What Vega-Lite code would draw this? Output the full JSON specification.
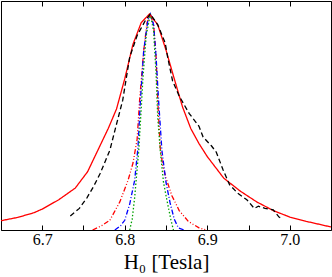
{
  "$schema": "https://vega.github.io/schema/vega-lite/v6.json",
  "width": 330,
  "height": 229,
  "autosize": "none",
  "padding": {"left": 1, "top": 1, "right": 1, "bottom": 47},
  "background": "white",
  "config": {
    "view": {"stroke": "black", "strokeWidth": 1},
    "axis": {"domainColor": "black", "tickColor": "black", "labelColor": "black", "titleColor": "black", "labelFont": "Liberation Serif", "titleFont": "Liberation Serif", "labelFontSize": 16, "titleFontSize": 21, "titleFontWeight": "normal", "labelPadding": 6, "titlePadding": 4, "grid": false}
  },
  "data": {"values": [
    {"s": "a", "x": 6.65, "y": 0.043},
    {"s": "a", "x": 6.67, "y": 0.058},
    {"s": "a", "x": 6.69, "y": 0.08},
    {"s": "a", "x": 6.70, "y": 0.097},
    {"s": "a", "x": 6.72, "y": 0.14},
    {"s": "a", "x": 6.74, "y": 0.194},
    {"s": "a", "x": 6.755, "y": 0.27},
    {"s": "a", "x": 6.77, "y": 0.39},
    {"s": "a", "x": 6.78, "y": 0.47},
    {"s": "a", "x": 6.79, "y": 0.56},
    {"s": "a", "x": 6.80, "y": 0.70},
    {"s": "a", "x": 6.81, "y": 0.86},
    {"s": "a", "x": 6.82, "y": 0.96},
    {"s": "a", "x": 6.83, "y": 1.0},
    {"s": "a", "x": 6.84, "y": 0.95},
    {"s": "a", "x": 6.85, "y": 0.833},
    {"s": "a", "x": 6.86, "y": 0.70},
    {"s": "a", "x": 6.87, "y": 0.57},
    {"s": "a", "x": 6.88, "y": 0.47},
    {"s": "a", "x": 6.89, "y": 0.40},
    {"s": "a", "x": 6.90, "y": 0.34},
    {"s": "a", "x": 6.92, "y": 0.24},
    {"s": "a", "x": 6.94, "y": 0.18},
    {"s": "a", "x": 6.96, "y": 0.13},
    {"s": "a", "x": 6.98, "y": 0.09},
    {"s": "a", "x": 7.00, "y": 0.06},
    {"s": "a", "x": 7.02, "y": 0.04},
    {"s": "a", "x": 7.05, "y": 0.014},
    {"s": "b", "x": 6.734, "y": 0.065},
    {"s": "b", "x": 6.745, "y": 0.10},
    {"s": "b", "x": 6.754, "y": 0.148},
    {"s": "b", "x": 6.762, "y": 0.20},
    {"s": "b", "x": 6.77, "y": 0.26},
    {"s": "b", "x": 6.782, "y": 0.37},
    {"s": "b", "x": 6.788, "y": 0.46},
    {"s": "b", "x": 6.7975, "y": 0.60},
    {"s": "b", "x": 6.806, "y": 0.80},
    {"s": "b", "x": 6.815, "y": 0.90},
    {"s": "b", "x": 6.825, "y": 0.97},
    {"s": "b", "x": 6.831, "y": 1.0},
    {"s": "b", "x": 6.84, "y": 0.95},
    {"s": "b", "x": 6.849, "y": 0.866},
    {"s": "b", "x": 6.852, "y": 0.80},
    {"s": "b", "x": 6.858, "y": 0.69},
    {"s": "b", "x": 6.866, "y": 0.62},
    {"s": "b", "x": 6.878, "y": 0.54},
    {"s": "b", "x": 6.89, "y": 0.48},
    {"s": "b", "x": 6.895, "y": 0.43},
    {"s": "b", "x": 6.905, "y": 0.39},
    {"s": "b", "x": 6.911, "y": 0.36},
    {"s": "b", "x": 6.919, "y": 0.28},
    {"s": "b", "x": 6.927, "y": 0.21},
    {"s": "b", "x": 6.937, "y": 0.17},
    {"s": "b", "x": 6.948, "y": 0.14},
    {"s": "b", "x": 6.957, "y": 0.10},
    {"s": "b", "x": 6.962, "y": 0.11},
    {"s": "b", "x": 6.97, "y": 0.10},
    {"s": "b", "x": 6.98, "y": 0.093},
    {"s": "b", "x": 6.987, "y": 0.06},
    {"s": "b", "x": 6.99, "y": 0.055},
    {"s": "c", "x": 6.761, "y": 0.0},
    {"s": "c", "x": 6.772, "y": 0.02},
    {"s": "c", "x": 6.782, "y": 0.045},
    {"s": "c", "x": 6.794, "y": 0.13},
    {"s": "c", "x": 6.804, "y": 0.23},
    {"s": "c", "x": 6.81, "y": 0.31},
    {"s": "c", "x": 6.815, "y": 0.42},
    {"s": "c", "x": 6.818, "y": 0.60},
    {"s": "c", "x": 6.823, "y": 0.83},
    {"s": "c", "x": 6.827, "y": 0.96},
    {"s": "c", "x": 6.831, "y": 1.0},
    {"s": "c", "x": 6.835, "y": 0.95},
    {"s": "c", "x": 6.838, "y": 0.8},
    {"s": "c", "x": 6.84, "y": 0.6},
    {"s": "c", "x": 6.843, "y": 0.38},
    {"s": "c", "x": 6.846, "y": 0.30},
    {"s": "c", "x": 6.85, "y": 0.24},
    {"s": "c", "x": 6.857, "y": 0.16},
    {"s": "c", "x": 6.866, "y": 0.09},
    {"s": "c", "x": 6.877, "y": 0.04},
    {"s": "c", "x": 6.89, "y": 0.01},
    {"s": "c", "x": 6.899, "y": 0.0},
    {"s": "d", "x": 6.788, "y": 0.0},
    {"s": "d", "x": 6.795, "y": 0.02},
    {"s": "d", "x": 6.8, "y": 0.045},
    {"s": "d", "x": 6.806, "y": 0.12},
    {"s": "d", "x": 6.812, "y": 0.23},
    {"s": "d", "x": 6.816, "y": 0.38},
    {"s": "d", "x": 6.819, "y": 0.6},
    {"s": "d", "x": 6.823, "y": 0.83},
    {"s": "d", "x": 6.828, "y": 0.97},
    {"s": "d", "x": 6.831, "y": 1.0},
    {"s": "d", "x": 6.835, "y": 0.95},
    {"s": "d", "x": 6.838, "y": 0.8},
    {"s": "d", "x": 6.841, "y": 0.6},
    {"s": "d", "x": 6.845, "y": 0.37},
    {"s": "d", "x": 6.85, "y": 0.22},
    {"s": "d", "x": 6.855, "y": 0.125},
    {"s": "d", "x": 6.86, "y": 0.05},
    {"s": "d", "x": 6.865, "y": 0.01},
    {"s": "d", "x": 6.872, "y": 0.0},
    {"s": "e", "x": 6.806, "y": 0.0},
    {"s": "e", "x": 6.809, "y": 0.05},
    {"s": "e", "x": 6.812, "y": 0.15},
    {"s": "e", "x": 6.817, "y": 0.37},
    {"s": "e", "x": 6.819, "y": 0.5},
    {"s": "e", "x": 6.822, "y": 0.7},
    {"s": "e", "x": 6.826, "y": 0.9},
    {"s": "e", "x": 6.831, "y": 1.0},
    {"s": "e", "x": 6.835, "y": 0.92},
    {"s": "e", "x": 6.838, "y": 0.72},
    {"s": "e", "x": 6.84, "y": 0.52},
    {"s": "e", "x": 6.843, "y": 0.37},
    {"s": "e", "x": 6.847, "y": 0.22},
    {"s": "e", "x": 6.851, "y": 0.14},
    {"s": "e", "x": 6.856, "y": 0.046},
    {"s": "e", "x": 6.859, "y": 0.0}
  ]},
  "encoding": {
    "y": {"field": "y", "type": "quantitative", "scale": {"domain": [0, 1.06], "nice": false, "zero": false}, "axis": null},
    "color": {"field": "s", "type": "nominal", "legend": null, "scale": {"domain": ["a", "b", "c", "d", "e"], "range": ["#ff0000", "#000000", "#ff0000", "#0000ff", "#00a000"]}},
    "strokeDash": {"field": "s", "type": "nominal", "legend": null, "scale": {"domain": ["a", "b", "c", "d", "e"], "range": [[1, 0], [5, 3], [5, 2, 1, 2, 1, 2], [5, 2, 1, 2], [1.5, 2]]}},
    "detail": {"field": "s"}
  },
  "layer": [
    {
      "transform": [{"filter": "datum.s == 'c' || datum.s == 'd' || datum.s == 'e'"}],
      "mark": {"type": "line", "strokeWidth": 1.3, "clip": true},
      "encoding": {
        "x": {"field": "x", "type": "quantitative", "scale": {"domain": [6.65, 7.05], "nice": false, "zero": false},
          "axis": {"orient": "top", "values": [6.7, 6.75, 6.8, 6.85, 6.9, 6.95, 7.0], "labels": false, "tickSize": -5, "title": null, "domain": true}}
      }
    },
    {
      "transform": [{"filter": "datum.s == 'a' || datum.s == 'b'"}],
      "mark": {"type": "line", "strokeWidth": 1.3, "clip": true},
      "encoding": {
        "x": {"field": "x", "type": "quantitative", "scale": {"domain": [6.65, 7.05], "nice": false, "zero": false},
          "axis": {"orient": "bottom", "values": [6.7, 6.75, 6.8, 6.85, 6.9, 6.95, 7.0],
            "labelExpr": "abs(round(datum.value*10) - datum.value*10) < 0.01 ? format(datum.value, '.1f') : ''",
            "tickSize": -5, "title": "H₀ [Tesla]", "labelFlush": false}}
      }
    }
  ],
  "resolve": {"axis": {"x": "independent"}}
}
